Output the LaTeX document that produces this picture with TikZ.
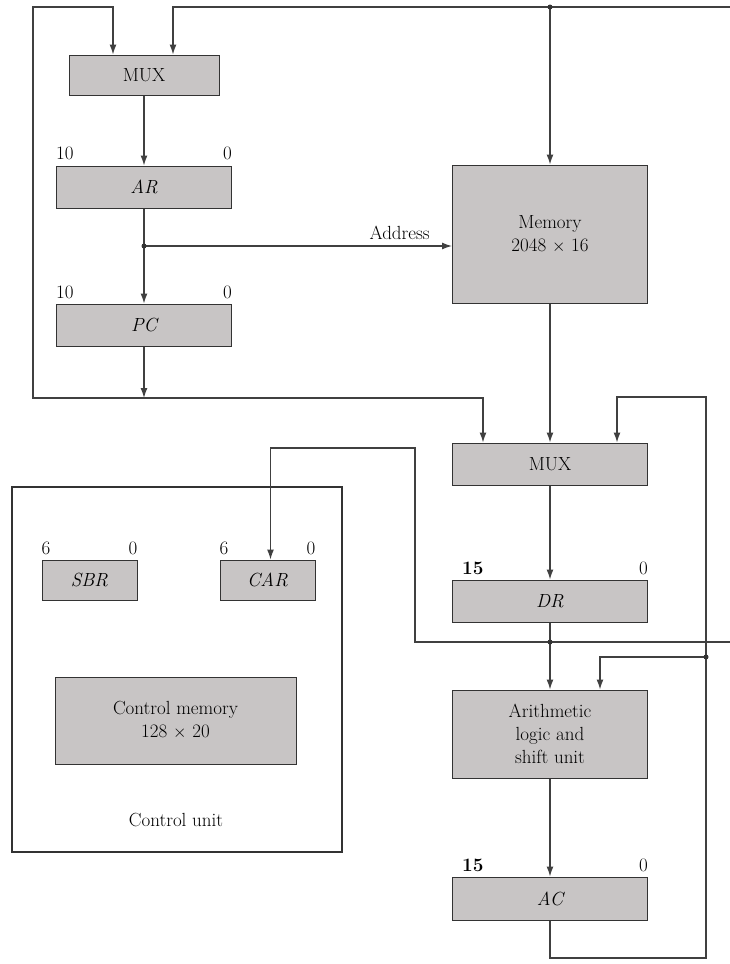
\documentclass[tikz,border=0pt]{standalone}
\usepackage{amsmath}
\usepackage{tikz}
\usetikzlibrary{arrows.meta,calc}
\definecolor{boxgray}{RGB}{200,197,197}
\tikzstyle{regbox} = [draw=black!80, fill=boxgray, line width=1pt,
rectangle, inner sep=0pt, align=center, font=\fontsize{19}{23}\selectfont]
\tikzstyle{wire} = [draw=black!75, line width=1.3pt]
\tikzstyle{arr} = [wire, -{Latex[length=10pt,width=7pt]}]
\tikzstyle{bitno} = [inner sep=0pt, font=\fontsize{19}{22}\selectfont]
\tikzstyle{jdot} = [circle, fill=black!80, inner sep=0pt, minimum size=5pt]

\begin{document}
\begin{tikzpicture}[x=1pt, y=-1pt]
		\useasboundingbox (0,0) rectangle (730,964);
		% registers and units
		\node [regbox, minimum width=150pt, minimum height=40pt] (mux1) at (144,75) {MUX};
		\node [regbox, minimum width=175pt, minimum height=42pt] (AR) at (144,187) {\itshape AR};
		\node [regbox, minimum width=175pt, minimum height=42pt] (PC) at (144,325) {\itshape PC};
		\node [regbox, minimum width=195pt, minimum height=138pt] (mem) at (550,234) {Memory\\2048 $\times$ 16};
		\node [regbox, minimum width=195pt, minimum height=42pt] (mux2) at (550,464) {MUX};
		\node [regbox, minimum width=195pt, minimum height=42pt] (DR) at (550,601) {\itshape DR};
		\node [regbox, minimum width=195pt, minimum height=88pt] (alu) at (550,734) {Arithmetic\\logic and\\shift unit};
		\node [regbox, minimum width=195pt, minimum height=43pt] (AC) at (550,898.5) {\itshape AC};
		% control unit
		\node [draw=black!80, line width=1.2pt, minimum width=330pt, minimum height=365pt] (cu) at (177,669.5) {};
		\node [regbox, minimum width=95pt, minimum height=40pt] (SBR) at (89.5,580) {\itshape SBR};
		\node [regbox, minimum width=95pt, minimum height=40pt] (CAR) at (267.5,580) {\itshape CAR};
		\node [regbox, minimum width=241pt, minimum height=87pt] (cmem) at (175.5,720.5) {Control memory\\128 $\times$ 20};
		\node [font=\fontsize{19}{23}\selectfont] (culabel) at (176,820) {Control unit};
		% bit numbers
		\node [bitno, anchor=south west] (ARhi) at ([yshift=5pt]AR.north west) {10};
		\node [bitno, anchor=south east] (ARlo) at ([yshift=5pt]AR.north east) {0};
		\node [bitno, anchor=south west] (PChi) at ([yshift=5pt]PC.north west) {10};
		\node [bitno, anchor=south east] (PClo) at ([yshift=5pt]PC.north east) {0};
		\node [bitno, anchor=south west] (SBRhi) at ([yshift=5pt]SBR.north west) {6};
		\node [bitno, anchor=south east] (SBRlo) at ([yshift=5pt]SBR.north east) {0};
		\node [bitno, anchor=south west] (CARhi) at ([yshift=5pt]CAR.north west) {6};
		\node [bitno, anchor=south east] (CARlo) at ([yshift=5pt]CAR.north east) {0};
		\node [bitno, anchor=south west] (DRhi) at ([xshift=10pt,yshift=5pt]DR.north west) {\bfseries 15};
		\node [bitno, anchor=south east] (DRlo) at ([yshift=5pt]DR.north east) {0};
		\node [bitno, anchor=south west] (AChi) at ([xshift=10pt,yshift=5pt]AC.north west) {\bfseries 15};
		\node [bitno, anchor=south east] (AClo) at ([yshift=5pt]AC.north east) {0};
		% bus points
		\coordinate (memtap) at (550,7);
		\coordinate (topend) at (730,7);
		\coordinate (artap) at (144,246);
		\coordinate (pcbus) at (144,398);
		\coordinate (drtap) at (550,642);
		\coordinate (drend) at (730,642);
		\coordinate (alutap) at (706,657);
		\coordinate (acret) at (706,958);
		\coordinate (acup) at (706,397);
		% connections
		\draw [wire] (topend) -- (memtap);
		\draw [arr] (memtap) -| ([xshift=29pt]mux1.north);
		\draw [arr] (memtap) -- (mem.north);
		\draw [arr] (mux1) -- (AR);
		\draw [arr] (AR) -- (PC);
		\draw [arr] (artap) -- (artap -| mem.west) node [pos=0.83, above=2pt, font=\fontsize{19}{23}\selectfont] {Address};
		\draw [arr] (PC) -- (pcbus);
		\draw [arr] (pcbus) -| (33,7) -| ([xshift=-31pt]mux1.north);
		\draw [arr] (pcbus) -| ([xshift=-67pt]mux2.north);
		\draw [arr] (mem) -- (mux2);
		\draw [arr] (mux2) -- (DR);
		\draw [arr] (DR) -- (alu);
		\draw [arr] (alu) -- (AC);
		\draw [wire] (drtap) -- (drend);
		\draw [arr] (drtap) -| (415,448) -| ([xshift=3pt]CAR.north);
		\draw [arr] (AC.south) |- (acret) -- (acup) -| ([xshift=67pt]mux2.north);
		\draw [arr] (alutap) -| ([xshift=50pt]alu.north);
		\node [jdot] at (memtap) {};
		\node [jdot] at (artap) {};
		\node [jdot] at (drtap) {};
		\node [jdot] at (alutap) {};
\end{tikzpicture}
\end{document}
